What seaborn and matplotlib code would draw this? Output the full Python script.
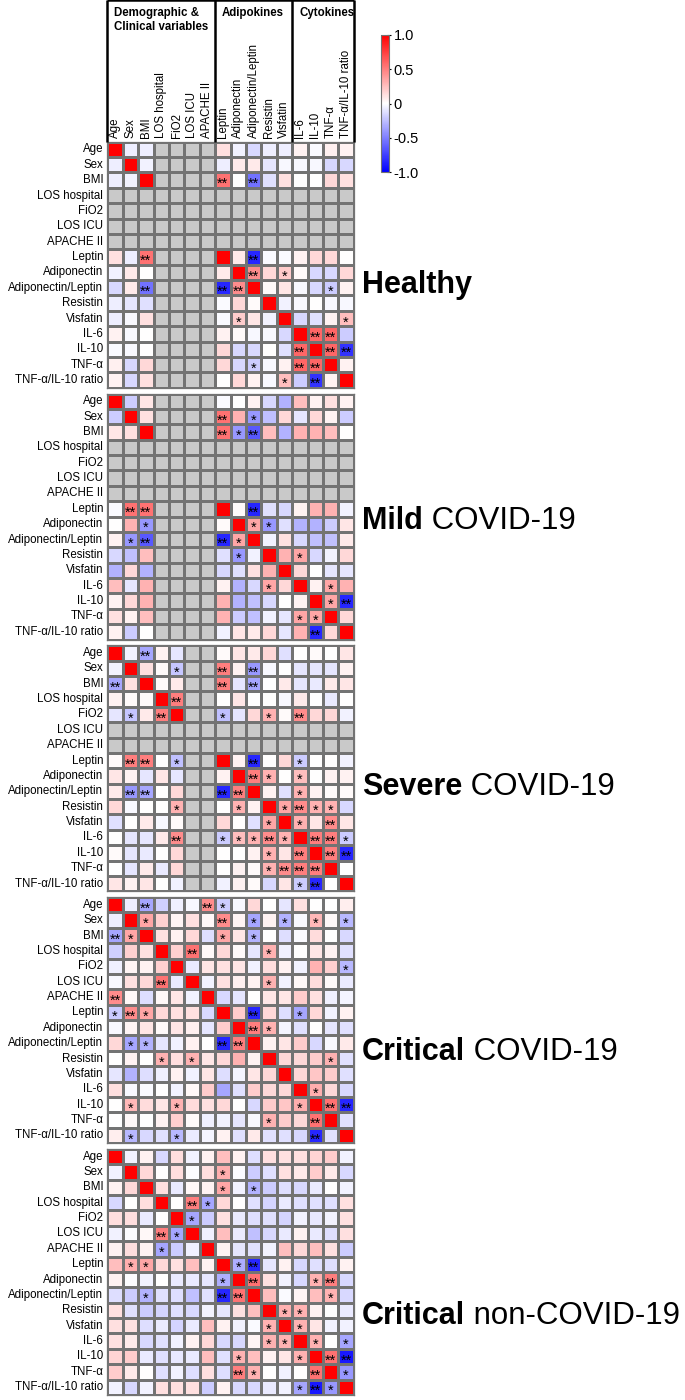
import numpy as np
import pandas as pd
import seaborn as sns
import matplotlib.pyplot as plt
from matplotlib.colors import ListedColormap

N = np.nan

variables = ['Age', 'Sex', 'BMI', 'LOS hospital', 'FiO2', 'LOS ICU', 'APACHE II',
             'Leptin', 'Adiponectin', 'Adiponectin/Leptin', 'Resistin', 'Visfatin',
             'IL-6', 'IL-10', 'TNF-α', 'TNF-α/IL-10 ratio']
groups = [('Demographic &\nClinical variables', 7), ('Adipokines', 5), ('Cytokines', 4)]

# lower triangles of the correlation matrices (row i -> columns 0..i-1)
healthy = [
    [],
    [-0.07],
    [-0.07, -0.05],
    [N] * 3,
    [N] * 4,
    [N] * 5,
    [N] * 6,
    [0.12, -0.07, 0.55, N, N, N, N],
    [-0.05, 0.08, 0.0, N, N, N, N, 0.08],
    [-0.15, 0.08, -0.55, N, N, N, N, -0.85, 0.45],
    [-0.07, -0.1, -0.12, N, N, N, N, -0.02, 0.15, 0.02],
    [-0.07, -0.03, 0.12, N, N, N, N, -0.02, 0.2, 0.1, -0.05],
    [0.05, -0.03, 0.0, N, N, N, N, 0.05, 0.02, -0.03, -0.03, -0.15],
    [-0.02, -0.03, 0.0, N, N, N, N, 0.15, -0.15, -0.15, 0.0, -0.12, 0.6],
    [0.06, -0.15, 0.15, N, N, N, N, 0.15, -0.15, -0.2, -0.03, 0.05, 0.6, 0.6],
    [0.05, -0.15, 0.12, N, N, N, N, 0.0, 0.15, 0.05, -0.03, 0.25, -0.2, -0.8, 0.05],
]
mild = [
    [],
    [-0.2],
    [0.1, 0.12],
    [N] * 3,
    [N] * 4,
    [N] * 5,
    [N] * 6,
    [-0.02, 0.55, 0.55, N, N, N, N],
    [0.0, 0.3, -0.4, N, N, N, N, 0.02],
    [0.05, -0.4, -0.65, N, N, N, N, -0.85, 0.35],
    [-0.15, -0.25, 0.25, N, N, N, N, -0.12, -0.4, -0.05],
    [-0.3, 0.15, -0.3, N, N, N, N, -0.15, -0.12, 0.12, 0.3],
    [0.25, -0.1, 0.3, N, N, N, N, 0.05, -0.3, -0.15, 0.35, 0.15],
    [0.05, 0.15, 0.3, N, N, N, N, 0.3, -0.3, -0.25, -0.15, 0.0, 0.05],
    [0.12, 0.05, 0.25, N, N, N, N, 0.3, -0.2, -0.25, -0.05, -0.1, 0.35, 0.35],
    [0.05, -0.2, 0.0, N, N, N, N, -0.05, 0.1, 0.08, 0.15, -0.1, 0.3, -0.85, 0.15],
]
severe = [
    [],
    [-0.05],
    [-0.35, 0.12],
    [0.05, 0.02, 0.02],
    [-0.1, -0.22, 0.08, 0.5],
    [N] * 5,
    [N] * 6,
    [0.02, 0.5, 0.5, 0.0, -0.25, N, N],
    [0.1, 0.05, -0.1, 0.1, -0.1, N, N, 0.05],
    [0.08, -0.4, -0.35, 0.0, 0.15, N, N, -0.85, 0.5],
    [0.15, -0.03, 0.0, 0.0, 0.3, N, N, 0.0, 0.3, 0.05],
    [-0.12, 0.0, 0.08, -0.03, 0.02, N, N, 0.15, 0.0, -0.12, 0.35],
    [0.0, -0.1, -0.1, 0.08, 0.45, N, N, -0.2, 0.25, 0.3, 0.45, 0.3],
    [0.02, -0.1, -0.08, 0.0, 0.15, N, N, 0.0, 0.0, 0.05, 0.3, 0.1, 0.5],
    [0.0, -0.1, 0.08, -0.08, 0.15, N, N, 0.0, 0.05, 0.02, 0.3, 0.45, 0.5, 0.5],
    [0.1, 0.05, 0.1, 0.0, -0.05, N, N, -0.05, 0.05, 0.02, -0.15, 0.1, -0.2, -0.85, 0.0],
]
critical = [
    [],
    [-0.07],
    [-0.35, 0.35],
    [-0.18, 0.18, 0.12],
    [-0.06, 0.04, 0.05, 0.18],
    [-0.03, 0.12, 0.15, 0.55, -0.08],
    [0.45, 0.03, -0.13, 0.03, 0.1, -0.05],
    [-0.2, 0.45, 0.35, 0.15, 0.12, 0.12, -0.15],
    [-0.03, 0.04, 0.1, 0.02, 0.1, 0.06, -0.1, 0.2],
    [0.15, -0.35, -0.3, -0.1, -0.05, 0.05, 0.0, -0.85, 0.5],
    [0.0, 0.05, 0.0, 0.3, 0.13, 0.3, 0.1, 0.15, 0.3, 0.05],
    [-0.1, -0.3, -0.13, -0.06, 0.05, -0.05, 0.1, -0.13, -0.04, 0.1, 0.15],
    [0.12, -0.03, -0.02, 0.0, -0.05, 0.03, 0.2, -0.35, -0.12, 0.2, 0.15, 0.15],
    [0.0, 0.28, 0.14, 0.1, 0.3, 0.14, 0.12, 0.15, 0.0, -0.15, 0.2, 0.22, 0.32],
    [0.0, 0.03, 0.0, 0.05, 0.18, 0.02, -0.06, -0.05, -0.1, -0.03, 0.3, 0.2, 0.15, 0.55],
    [0.07, -0.28, -0.15, -0.12, -0.28, -0.08, -0.04, 0.05, -0.12, 0.08, -0.12, -0.12, -0.15, -0.85, -0.12],
]
non_covid = [
    [],
    [-0.05],
    [0.05, 0.15],
    [-0.15, 0.0, 0.13],
    [0.13, 0.13, -0.08, 0.0],
    [-0.05, -0.01, 0.03, 0.5, -0.35],
    [0.05, 0.13, 0.05, -0.35, -0.2, -0.06],
    [0.25, 0.32, 0.35, 0.15, 0.12, 0.25, 0.05],
    [0.05, -0.01, -0.05, 0.0, -0.08, -0.08, -0.1, -0.32],
    [-0.13, -0.2, -0.3, -0.12, -0.13, -0.25, -0.12, -0.85, 0.55],
    [0.12, -0.12, -0.2, -0.17, -0.12, -0.15, -0.05, -0.1, 0.12, 0.25],
    [0.12, 0.12, -0.13, -0.08, -0.17, -0.08, 0.25, 0.05, -0.05, -0.02, 0.3],
    [0.12, 0.08, -0.15, -0.12, -0.05, 0.05, 0.15, -0.15, -0.15, 0.04, 0.3, 0.3],
    [0.17, 0.2, -0.08, -0.12, -0.09, -0.08, 0.25, -0.12, 0.3, 0.25, 0.05, 0.1, 0.3],
    [0.2, 0.08, 0.0, -0.12, -0.05, -0.13, 0.12, -0.13, 0.5, 0.3, 0.0, -0.05, 0.0, 0.55],
    [-0.05, -0.15, -0.05, 0.12, 0.12, 0.12, -0.2, 0.05, -0.15, -0.15, -0.08, -0.05, -0.35, -0.9, -0.4],
]

# significance marks (row, column, label) as shown in each panel
healthy_stars = [
    (2, 7, '**'), (2, 9, '**'), (7, 2, '**'), (7, 9, '**'), (8, 9, '**'), (8, 11, '*'),
    (9, 2, '**'), (9, 7, '**'), (9, 8, '**'), (9, 14, '*'), (11, 8, '*'), (11, 15, '*'),
    (12, 13, '**'), (12, 14, '**'), (13, 12, '**'), (13, 14, '**'), (13, 15, '**'),
    (14, 9, '*'), (14, 12, '**'), (14, 13, '**'), (15, 11, '*'), (15, 13, '**'),
]
mild_stars = [
    (1, 7, '**'), (1, 9, '*'), (2, 7, '**'), (2, 8, '*'), (2, 9, '**'),
    (7, 1, '**'), (7, 2, '**'), (7, 9, '**'), (8, 2, '*'), (8, 9, '*'), (8, 10, '*'),
    (9, 1, '*'), (9, 2, '**'), (9, 7, '**'), (9, 8, '*'), (10, 8, '*'), (10, 12, '*'),
    (12, 10, '*'), (12, 14, '*'), (13, 14, '*'), (13, 15, '**'),
    (14, 12, '*'), (14, 13, '*'), (15, 13, '**'),
]
severe_stars = [
    (0, 2, '**'), (1, 4, '*'), (1, 7, '**'), (1, 9, '**'), (2, 0, '**'), (2, 7, '**'), (2, 9, '**'),
    (3, 4, '**'), (4, 1, '*'), (4, 3, '**'), (4, 7, '*'), (4, 10, '*'), (4, 12, '**'),
    (7, 1, '**'), (7, 2, '**'), (7, 4, '*'), (7, 9, '**'), (7, 12, '*'),
    (8, 9, '**'), (8, 10, '*'), (8, 12, '*'),
    (9, 1, '**'), (9, 2, '**'), (9, 7, '**'), (9, 8, '**'), (9, 12, '*'),
    (10, 4, '*'), (10, 8, '*'), (10, 11, '*'), (10, 12, '**'), (10, 13, '*'), (10, 14, '*'),
    (11, 10, '*'), (11, 12, '*'), (11, 14, '**'),
    (12, 4, '**'), (12, 7, '*'), (12, 8, '*'), (12, 9, '*'), (12, 10, '**'), (12, 11, '*'),
    (12, 13, '**'), (12, 14, '**'), (12, 15, '*'),
    (13, 10, '*'), (13, 12, '**'), (13, 14, '**'), (13, 15, '**'),
    (14, 10, '*'), (14, 11, '**'), (14, 12, '**'), (14, 13, '**'),
    (15, 12, '*'), (15, 13, '**'),
]
critical_stars = [
    (0, 2, '**'), (0, 6, '**'), (0, 7, '*'),
    (1, 2, '*'), (1, 7, '**'), (1, 9, '*'), (1, 11, '*'), (1, 13, '*'), (1, 15, '*'),
    (2, 0, '**'), (2, 1, '*'), (2, 7, '*'), (2, 9, '*'),
    (3, 5, '**'), (3, 10, '*'), (4, 15, '*'), (5, 3, '**'), (5, 10, '*'), (6, 0, '**'),
    (7, 0, '*'), (7, 1, '**'), (7, 2, '*'), (7, 9, '**'), (7, 12, '*'),
    (8, 9, '**'), (8, 10, '*'), (9, 1, '*'), (9, 2, '*'), (9, 7, '**'), (9, 8, '**'),
    (10, 3, '*'), (10, 5, '*'), (10, 14, '*'), (12, 13, '*'),
    (13, 1, '*'), (13, 4, '*'), (13, 12, '*'), (13, 14, '**'), (13, 15, '**'),
    (14, 10, '*'), (14, 13, '**'), (15, 1, '*'), (15, 4, '*'), (15, 13, '**'),
]
non_covid_stars = [
    (1, 7, '*'), (2, 7, '*'), (2, 9, '*'), (3, 5, '**'), (3, 6, '*'), (4, 5, '*'),
    (5, 3, '**'), (5, 4, '*'), (6, 3, '*'),
    (7, 1, '*'), (7, 2, '*'), (7, 8, '*'), (7, 9, '**'),
    (8, 7, '*'), (8, 9, '**'), (8, 13, '*'), (8, 14, '**'),
    (9, 2, '*'), (9, 7, '**'), (9, 8, '**'), (9, 14, '*'),
    (10, 11, '*'), (10, 12, '*'), (11, 10, '*'), (11, 12, '*'),
    (12, 10, '*'), (12, 11, '*'), (12, 13, '*'), (12, 15, '*'),
    (13, 8, '*'), (13, 12, '*'), (13, 14, '**'), (13, 15, '**'),
    (14, 8, '**'), (14, 9, '*'), (14, 13, '**'), (14, 15, '*'),
    (15, 12, '*'), (15, 13, '**'), (15, 14, '*'),
]

panels = [
    (('Healthy', ''), healthy, healthy_stars, [3, 4, 5, 6]),
    (('Mild', ' COVID-19'), mild, mild_stars, [3, 4, 5, 6]),
    (('Severe', ' COVID-19'), severe, severe_stars, [5, 6]),
    (('Critical', ' COVID-19'), critical, critical_stars, []),
    (('Critical', ' non-COVID-19'), non_covid, non_covid_stars, []),
]


def full_matrix(lower, missing):
    m = np.eye(len(variables))
    for i, row in enumerate(lower):
        for j, v in enumerate(row):
            m[i, j] = m[j, i] = v
    m[missing, :] = np.nan
    m[:, missing] = np.nan
    return pd.DataFrame(m, index=variables, columns=variables)


sns.set_style('white')
plt.rcParams['font.family'] = ['Liberation Sans', 'DejaVu Sans']
plt.rcParams['text.color'] = 'black'
plt.rcParams['xtick.color'] = 'black'
plt.rcParams['ytick.color'] = 'black'

W, H = 685, 1400
fig = plt.figure(figsize=(W / 100, H / 100), dpi=100)


def px_axes(x, y, w, h):
    return fig.add_axes([x / W, 1 - (y + h) / H, w / W, h / H])


grid_col = '#737373'
tops = [141.7, 393.5, 645.3, 897.1, 1148.9]
title_y = [285, 521, 787, 1052, 1316]
cax = px_axes(381, 35, 8, 137)

for k, (title, lower, stars, missing) in enumerate(panels):
    df = full_matrix(lower, missing)
    ax = px_axes(107.3, tops[k], 246.4, 246)
    if missing:
        grey = df.isna().astype(float).where(df.isna())
        sns.heatmap(grey, cmap=ListedColormap(['#c9c9c9']), vmin=0, vmax=1, cbar=False,
                    linewidths=0.9, linecolor=grid_col, ax=ax)
    sns.heatmap(df, cmap='bwr', vmin=-1, vmax=1, ax=ax,
                cbar=(k == 0), cbar_ax=cax if k == 0 else None,
                linewidths=0.9, linecolor=grid_col,
                xticklabels=True, yticklabels=True)
    for i, j, s in stars:
        ax.text(j + 0.5, i + 0.76, s, ha='center', va='center', fontsize=10.5, color='black')
    for sp in ax.spines.values():
        sp.set_visible(True)
        sp.set_color(grid_col)
        sp.set_linewidth(0.9)
    ax.tick_params(length=0, labelsize=8.3, pad=3)
    ax.set_yticklabels(variables, rotation=0)
    if k == 0:
        ax.xaxis.tick_top()
        ax.set_xticklabels(variables, rotation=90, va='bottom')
    else:
        ax.set_xticks([])
    ax.set_xlabel('')
    ax.set_ylabel('')

    bold, rest = title
    t = fig.text(362 / W, 1 - title_y[k] / H, bold, fontsize=22, fontweight='bold', va='center')
    if rest:
        bb = t.get_window_extent(renderer=fig.canvas.get_renderer())
        fig.text(bb.x1 / W, 1 - title_y[k] / H, rest, fontsize=22.5, va='center')

# colorbar
cbar = fig.axes[1].collections[-1].colorbar
cbar.set_ticks([-1, -0.5, 0, 0.5, 1])
cbar.set_ticklabels(['-1.0', '-0.5', '0', '0.5', '1.0'])
cbar.outline.set_edgecolor(grid_col)
cbar.outline.set_linewidth(0.8)
cax.tick_params(labelsize=10.5, length=3, direction='inout', pad=2)

# group header boxes above the column labels
hax = px_axes(107.3, 0, 246.4, 141.7)
hax.set_xlim(0, len(variables))
hax.set_ylim(0, 1)
hax.axis('off')
edges = np.cumsum([0] + [n for _, n in groups])
hax.vlines(edges, 0, 1, color='black', lw=1.8, clip_on=False)
hax.hlines(1, edges[0], edges[-1], color='black', lw=1.8, clip_on=False)
for (name, n), x0 in zip(groups, edges[:-1]):
    hax.text(x0 + 0.45, 1 - 7 / 141.7, name, ha='left', va='top', fontsize=8.3,
             fontweight='bold', linespacing=1.2)

plt.savefig('out.png', dpi=100)
